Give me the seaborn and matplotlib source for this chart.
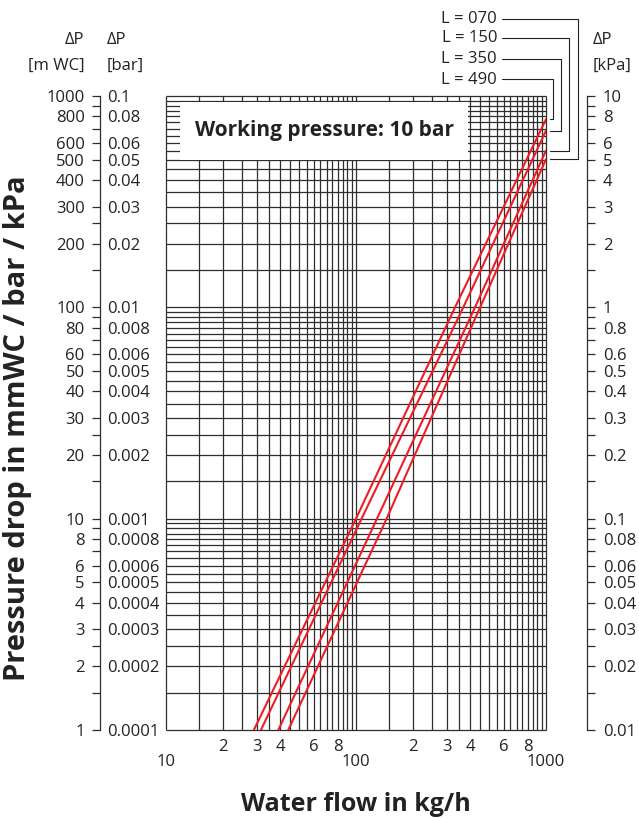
import numpy as np
import pandas as pd
import matplotlib
matplotlib.use("Agg")
import matplotlib.pyplot as plt
import matplotlib.transforms as mtransforms
from matplotlib.patches import Rectangle
from matplotlib.ticker import FixedLocator, FixedFormatter
import seaborn as sns

# ---------------- data ----------------
curve_names = ["L = 490", "L = 350", "L = 150", "L = 070"]
flow_490 = [29, 100, 332, 1000]
dp_490 = [1, 10, 100, 776]
flow_350 = [31.6, 107, 367, 1000]
dp_350 = [1, 10, 100, 686]
flow_150 = [39, 129, 423, 1000]
dp_150 = [1, 10, 100, 552]
flow_070 = [44, 145, 450, 1000]
dp_070 = [1, 10, 100, 502]

legend_order = ["L = 070", "L = 150", "L = 350", "L = 490"]

dp_label_pos = [1000, 800, 600, 500, 400, 300, 200, 100, 80, 60, 50, 40, 30, 20,
                10, 8, 6, 5, 4, 3, 2, 1]
mwc_labels = ["1000", "800", "600", "500", "400", "300", "200", "100", "80", "60",
              "50", "40", "30", "20", "10", "8", "6", "5", "4", "3", "2", "1"]
bar_labels = ["0.1", "0.08", "0.06", "0.05", "0.04", "0.03", "0.02", "0.01",
              "0.008", "0.006", "0.005", "0.004", "0.003", "0.002", "0.001",
              "0.0008", "0.0006", "0.0005", "0.0004", "0.0003", "0.0002", "0.0001"]
kpa_labels = ["10", "8", "6", "5", "4", "3", "2", "1", "0.8", "0.6", "0.5", "0.4",
              "0.3", "0.2", "0.1", "0.08", "0.06", "0.05", "0.04", "0.03", "0.02", "0.01"]
dp_unlabeled_pos = [900, 700, 250, 150, 90, 70, 25, 15, 9, 7, 2.5, 1.5]

flow_major = [10, 100, 1000]
flow_major_labels = ["10", "100", "1000"]
flow_minor = [20, 30, 40, 50, 60, 70, 80, 90, 200, 300, 400, 500, 600, 700, 800, 900]
flow_minor_labels = ["2", "3", "4", "", "6", "", "8", "",
                     "2", "3", "4", "", "6", "", "8", ""]

grid_mantissa = [1, 1.5, 2, 2.5, 3, 3.5, 4, 4.5, 5, 5.5, 6, 6.5, 7, 7.5, 8, 8.5, 9, 9.5]

title_text = "Working pressure: 10 bar"
xlabel_text = "Water flow in kg/h"
ylabel_text = "Pressure drop in mmWC / bar / kPa"

# ---------------- style ----------------
sns.set_style("white")
plt.rcParams["font.family"] = ["Open Sans", "DejaVu Sans"]
RED = "#ee1c25"
GRID = "#2e2e2e"
TXT = "#222222"

W, H = 639, 821
fig = plt.figure(figsize=(W / 100, H / 100), dpi=100)

def fx(px):
    return px / W

def fy(px):
    return (H - px) / H

ax_l, ax_r, ax_t, ax_b = 166, 546, 96, 730
ax = fig.add_axes([fx(ax_l), fy(ax_b), (ax_r - ax_l) / W, (ax_b - ax_t) / H])
ax.set_xscale("log")
ax.set_yscale("log")
ax.set_xlim(10, 1000)
ax.set_ylim(1, 1000)
for s in ax.spines.values():
    s.set_visible(False)

# grid lines
xgrid = [m * 10 ** e for e in (1, 2) for m in grid_mantissa] + [1000]
ygrid = [m * 10 ** e for e in (0, 1, 2) for m in grid_mantissa] + [1000]
ax.vlines(xgrid, 1, 1000, colors=GRID, lw=0.9, zorder=1, clip_on=False)
ax.hlines(ygrid, 10, 1000, colors=GRID, lw=0.9, zorder=1, clip_on=False)

# curves
rows = []
for name, q, p in [("L = 490", flow_490, dp_490), ("L = 350", flow_350, dp_350),
                   ("L = 150", flow_150, dp_150), ("L = 070", flow_070, dp_070)]:
    for qq, pp in zip(q, p):
        rows.append({"L": name, "flow": qq, "dp": pp})
df = pd.DataFrame(rows)
sns.lineplot(data=df, x="flow", y="dp", hue="L", palette={n: RED for n in curve_names},
             estimator=None, sort=False, legend=False, ax=ax, lw=1.5, zorder=4)
ax.set_xlabel("")
ax.set_ylabel("")

# working pressure box
ax.add_patch(Rectangle((0.037, 0.899), 0.758, 0.0915, transform=ax.transAxes,
                       facecolor="white", edgecolor="none", zorder=2))
ax.text(0.416, 0.9455, title_text, transform=ax.transAxes, ha="center", va="center",
        fontsize=15, fontweight="bold", color=TXT, zorder=3)

# bottom ticks
ax.xaxis.set_major_locator(FixedLocator(flow_major))
ax.xaxis.set_major_formatter(FixedFormatter(flow_major_labels))
ax.xaxis.set_minor_locator(FixedLocator(flow_minor))
ax.xaxis.set_minor_formatter(FixedFormatter(flow_minor_labels))
ax.tick_params(axis="x", which="major", length=16, width=0.9, color=GRID, pad=1.5,
               labelsize=12, labelcolor=TXT)
ax.tick_params(axis="x", which="minor", length=5, width=0.9, color=GRID, pad=1.5,
               labelsize=12, labelcolor=TXT)
ax.tick_params(axis="y", which="both", left=False, labelleft=False)

# left scale (m WC | bar)
all_pos = dp_label_pos + dp_unlabeled_pos
axL = fig.add_axes([fx(100), fy(ax_b), 1e-5, (ax_b - ax_t) / H])
axL.set_yscale("log")
axL.set_ylim(1, 1000)
axL.set_xticks([])
for k in ("top", "bottom", "right"):
    axL.spines[k].set_visible(False)
axL.spines["left"].set_color(GRID)
axL.spines["left"].set_linewidth(0.9)
axL.yaxis.set_major_locator(FixedLocator(all_pos))
axL.yaxis.set_major_formatter(FixedFormatter(mwc_labels + [""] * len(dp_unlabeled_pos)))
axL.yaxis.set_minor_locator(FixedLocator([]))
axL.tick_params(axis="y", which="major", left=True, right=False, length=5.5, width=0.9,
                color=GRID, pad=5.5, labelsize=12, labelcolor=TXT)
axL.patch.set_visible(False)

axL2 = axL.twinx()
axL2.set_yscale("log")
axL2.set_ylim(1, 1000)
for s in axL2.spines.values():
    s.set_visible(False)
axL2.yaxis.set_major_locator(FixedLocator(dp_label_pos))
axL2.yaxis.set_major_formatter(FixedFormatter(bar_labels))
axL2.yaxis.set_minor_locator(FixedLocator([]))
axL2.tick_params(axis="y", which="major", right=True, length=0, pad=5,
                 labelsize=12, labelcolor=TXT)

# right scale (kPa)
axR = fig.add_axes([fx(587), fy(ax_b), 1e-5, (ax_b - ax_t) / H])
axR.set_yscale("log")
axR.set_ylim(1, 1000)
axR.set_xticks([])
for k in ("top", "bottom", "left"):
    axR.spines[k].set_visible(False)
axR.spines["right"].set_color(GRID)
axR.spines["right"].set_linewidth(0.9)
axR.yaxis.tick_right()
axR.yaxis.set_major_locator(FixedLocator(all_pos))
axR.yaxis.set_major_formatter(FixedFormatter(kpa_labels + [""] * len(dp_unlabeled_pos)))
axR.yaxis.set_minor_locator(FixedLocator([]))
axR.tick_params(axis="y", which="major", right=True, left=False, length=5.5, width=0.9,
                color=GRID, pad=6, labelsize=12, labelcolor=TXT)
axR.patch.set_visible(False)

# column headers
fig.text(fx(84), fy(40), "ΔP", ha="right", va="center", fontsize=12, color=TXT)
fig.text(fx(85), fy(66), "[m WC]", ha="right", va="center", fontsize=12, color=TXT)
fig.text(fx(107), fy(40), "ΔP", ha="left", va="center", fontsize=12, color=TXT)
fig.text(fx(107), fy(66), "[bar]", ha="left", va="center", fontsize=12, color=TXT)
fig.text(fx(593), fy(40), "ΔP", ha="left", va="center", fontsize=12, color=TXT)
fig.text(fx(593), fy(66), "[kPa]", ha="left", va="center", fontsize=12, color=TXT)

# legend labels with connectors
blend = mtransforms.blended_transform_factory(ax.transAxes, ax.transData)
ends = {"L = 490": dp_490[-1], "L = 350": dp_350[-1], "L = 150": dp_150[-1], "L = 070": dp_070[-1]}
text_y_px = [19, 38.5, 59, 79.5]
vert_x_px = [577.5, 569, 561, 553.5]
for name, ty, vx in zip(legend_order, text_y_px, vert_x_px):
    yf = (ax_b - ty) / (ax_b - ax_t)
    y_text = 10 ** (3 * yf)
    x_text = (497 - ax_l) / (ax_r - ax_l)
    x_line0 = (502 - ax_l) / (ax_r - ax_l)
    x_vert = (vx - ax_l) / (ax_r - ax_l)
    x_end = (549.5 - ax_l) / (ax_r - ax_l)
    ax.text(x_text, y_text, name, transform=blend, ha="right", va="center",
            fontsize=12, color=TXT, clip_on=False)
    ax.plot([x_line0, x_vert, x_vert, x_end], [y_text, y_text, ends[name], ends[name]],
            transform=blend, color=TXT, lw=0.8, clip_on=False, zorder=5)

# axis titles
fig.text(fx(356), fy(804), xlabel_text, ha="center", va="center", fontsize=18,
         fontweight="bold", color=TXT)
fig.text(fx(18), fy(428), ylabel_text, ha="center", va="center", rotation=90,
         fontsize=21, fontweight="bold", color=TXT)

fig.savefig("out.png", dpi=100)
